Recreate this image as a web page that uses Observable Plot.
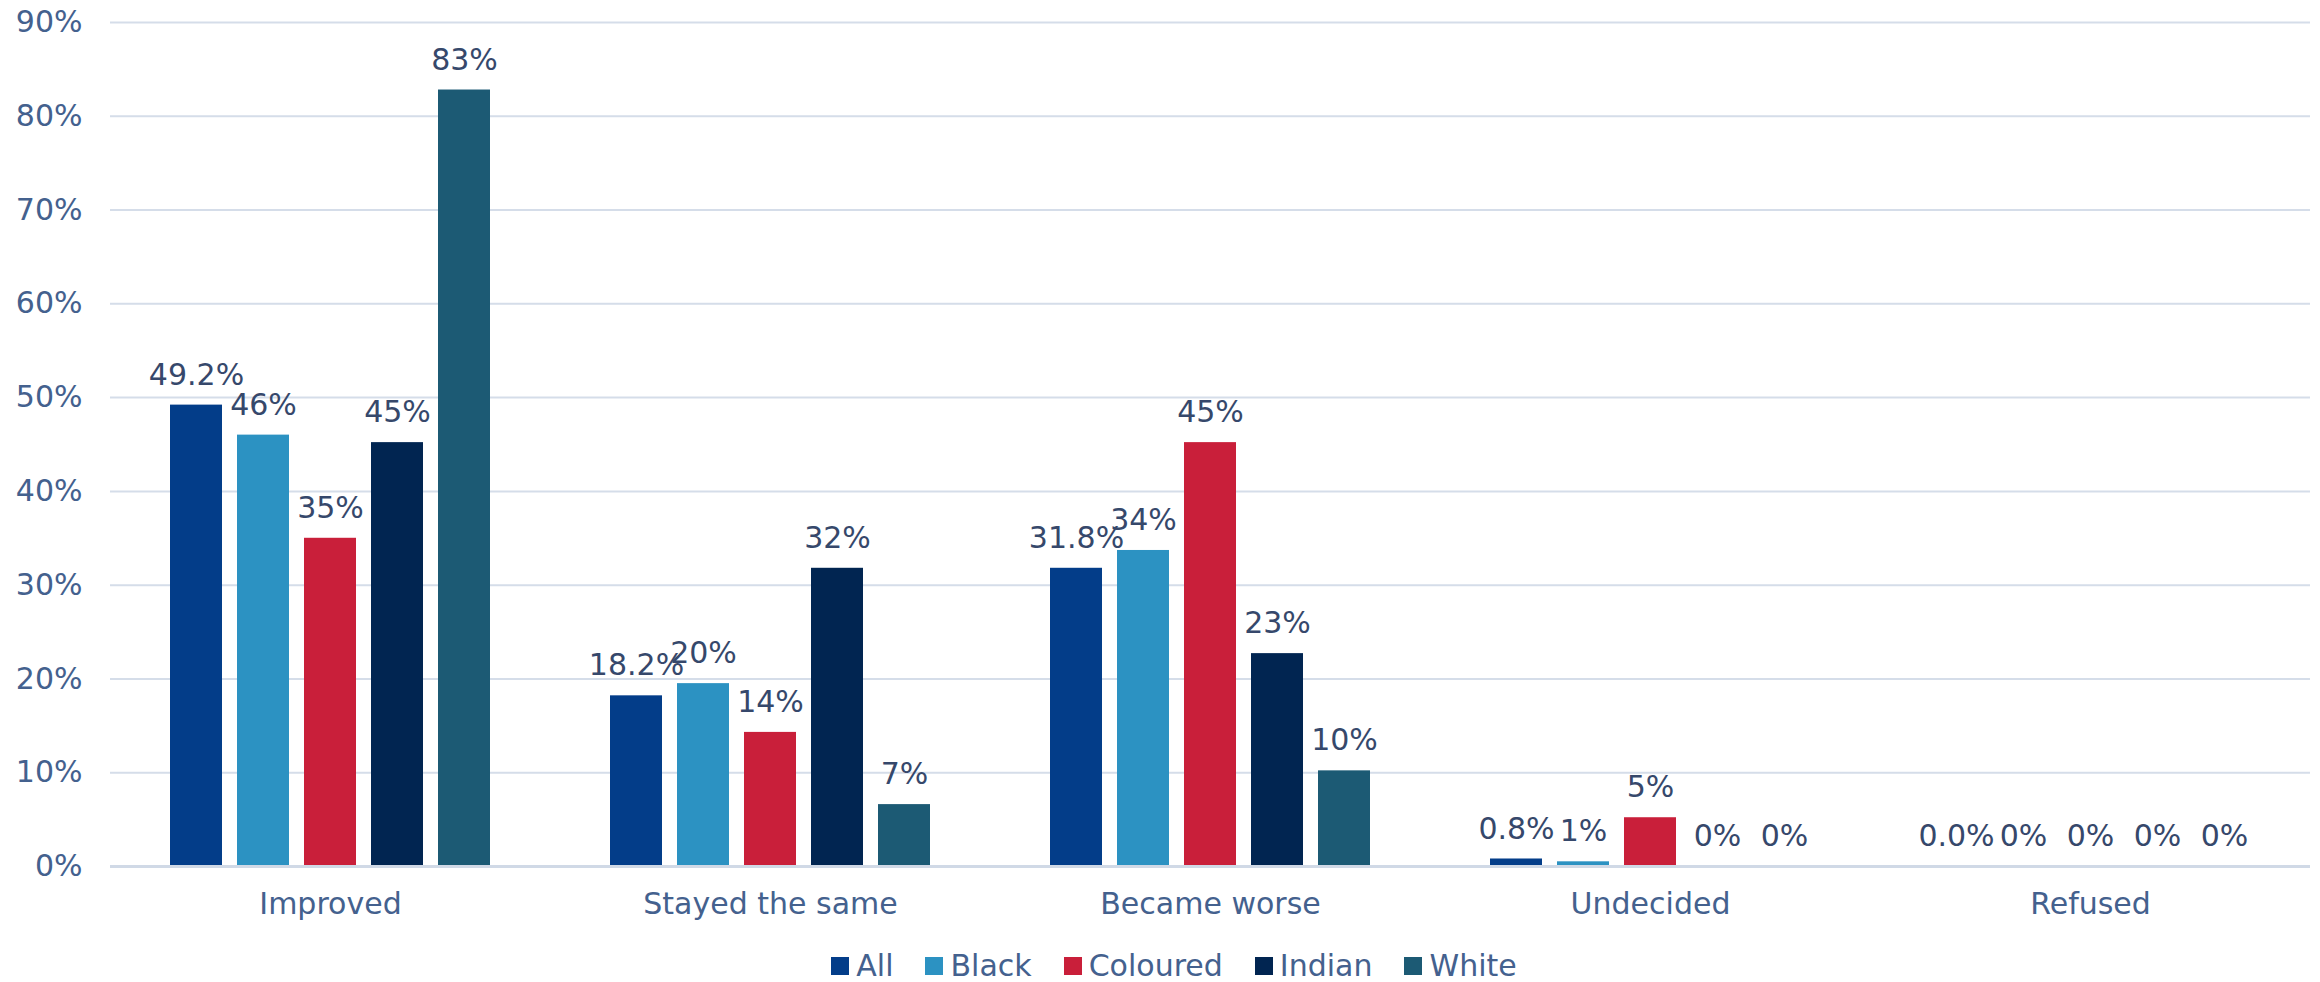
<!DOCTYPE html>
<html>
<head>
<meta charset="utf-8">
<script src="https://cdn.jsdelivr.net/npm/d3@7"></script>
<script src="https://cdn.jsdelivr.net/npm/@observablehq/plot@0.6"></script>
<style>
  body { margin: 0; background: #ffffff; font-family: "DejaVu Sans", sans-serif; }
  #wrap { position: relative; width: 2320px; height: 982px; overflow: hidden; background: #fff; }
  #chart { position: absolute; left: 0; top: 0; }
  #legend { position: absolute; top: 951px; left: 14px; width: 2320px; display: flex; justify-content: center;
            font-size: 30px; color: #44618e; line-height: 30px; }
  .item { display: flex; align-items: center; margin: 0 16px; }
  .sw { width: 18px; height: 18px; margin-right: 7px; }
</style>
</head>
<body>
<div id="wrap"><div id="chart"></div><div id="legend"></div></div>
<script>
const categories = ["Improved", "Stayed the same", "Became worse", "Undecided", "Refused"];
const series = ["All", "Black", "Coloured", "Indian", "White"];
const allValues = [49.2, 18.2, 31.8, 0.8, 0.0];
const blackValues = [46.0, 19.5, 33.7, 0.5, 0];
const colouredValues = [35.0, 14.3, 45.2, 5.2, 0];
const indianValues = [45.2, 31.8, 22.7, 0, 0];
const whiteValues = [82.8, 6.6, 10.2, 0, 0];
const labelDecimals = [1, 0, 0, 0, 0];
const colors = ["#033d89", "#2c92c2", "#c91f3a", "#012551", "#1c5a74"];
const yTicks = [0, 10, 20, 30, 40, 50, 60, 70, 80, 90];

const seriesValues = [allValues, blackValues, colouredValues, indianValues, whiteValues];
const data = [];
categories.forEach((c, i) => {
  series.forEach((s, j) => {
    const v = seriesValues[j][i];
    data.push({category: c, series: s, value: v, label: v.toFixed(labelDecimals[j]) + "%"});
  });
});

const chart = Plot.plot({
  width: 2320,
  height: 940,
  marginLeft: 109,
  marginRight: 9,
  marginTop: 22,
  marginBottom: 74,
  style: {fontFamily: "DejaVu Sans, sans-serif", fontSize: "30px", color: "#44618e", background: "white"},
  fx: {domain: categories, padding: 0, label: null},
  x: {domain: series, paddingInner: 0.218, paddingOuter: 0.858, axis: null},
  y: {domain: [0, 90], axis: null},
  color: {domain: series, range: colors},
  marks: [
    Plot.ruleY(yTicks.slice(1), {stroke: "#d5dde9", strokeWidth: 2}),
    Plot.axisY({ticks: yTicks, tickSize: 0, tickPadding: 28, tickFormat: d => d + "%", label: null, fontSize: 30}),
    Plot.barY(data, {fx: "category", x: "series", y: "value", fill: "series"}),
    Plot.ruleY([0], {stroke: "#d0d9e6", strokeWidth: 3}),
    Plot.text(data, {fx: "category", x: "series", y: "value", text: "label", dy: -30, fill: "#36486b", fontSize: 30}),
    Plot.axisFx({anchor: "bottom", tickSize: 0, tickPadding: 26, label: null, fontSize: 30})
  ]
});
document.getElementById("chart").appendChild(chart);

const legend = document.getElementById("legend");
series.forEach((s, i) => {
  const item = document.createElement("div");
  item.className = "item";
  const sw = document.createElement("span");
  sw.className = "sw";
  sw.style.background = colors[i];
  const t = document.createElement("span");
  t.textContent = s;
  item.appendChild(sw);
  item.appendChild(t);
  legend.appendChild(item);
});
</script>
</body>
</html>
